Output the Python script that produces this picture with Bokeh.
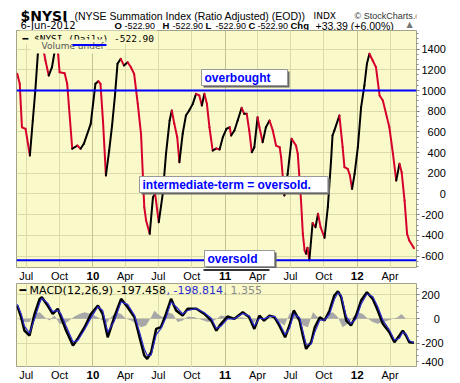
import pandas as pd
from bokeh.plotting import figure
from bokeh.layouts import column
from bokeh.core.properties import value
from bokeh.models import (Range1d, FixedTicker, SingleIntervalTicker,
                          CustomJSTickFormatter, Span, Label, BoxAnnotation, Grid, ColumnDataSource)
from bokeh.embed import file_html
from bokeh.resources import INLINE

# ---------------- data ----------------
nysi_dates = ["2009-06-06", "2009-06-13", "2009-06-19", "2009-06-29", "2009-07-11", "2009-07-19",
              "2009-07-26", "2009-08-02", "2009-08-09", "2009-08-16", "2009-08-23", "2009-09-01",
              "2009-09-10", "2009-09-18", "2009-09-25", "2009-10-01", "2009-10-15", "2009-10-22",
              "2009-11-05", "2009-11-19", "2009-11-28", "2009-12-07", "2009-12-26", "2010-01-08",
              "2010-01-16", "2010-01-22", "2010-01-29", "2010-02-06", "2010-02-15", "2010-02-23",
              "2010-03-03", "2010-03-10", "2010-03-19", "2010-03-28", "2010-04-07", "2010-04-16",
              "2010-04-25", "2010-05-05", "2010-05-14", "2010-05-23", "2010-05-28", "2010-06-07",
              "2010-06-16", "2010-06-22", "2010-07-02", "2010-07-13", "2010-07-22", "2010-08-01",
              "2010-08-07", "2010-08-14", "2010-08-22", "2010-08-28", "2010-09-06", "2010-09-15",
              "2010-09-24", "2010-10-04", "2010-10-13", "2010-10-22", "2010-10-29", "2010-11-05",
              "2010-11-12", "2010-11-19", "2010-11-28", "2010-12-08", "2010-12-17", "2010-12-26",
              "2011-01-05", "2011-01-14", "2011-01-18", "2011-01-27", "2011-02-05", "2011-02-16",
              "2011-02-23", "2011-03-02", "2011-03-09", "2011-03-16", "2011-03-23", "2011-04-01",
              "2011-04-06", "2011-04-15", "2011-04-24", "2011-05-04", "2011-05-13", "2011-05-22",
              "2011-06-01", "2011-06-05", "2011-06-14", "2011-06-23", "2011-07-04", "2011-07-16",
              "2011-07-21", "2011-07-30", "2011-08-04", "2011-08-09", "2011-08-13", "2011-08-17",
              "2011-08-22", "2011-08-31", "2011-09-08", "2011-09-15", "2011-09-22", "2011-10-03",
              "2011-10-12", "2011-10-21", "2011-10-25", "2011-10-30", "2011-11-13", "2011-11-22",
              "2011-11-27", "2011-12-06", "2011-12-12", "2011-12-18", "2011-12-25", "2012-01-03",
              "2012-01-12", "2012-01-21", "2012-01-28", "2012-02-04", "2012-02-13", "2012-02-22",
              "2012-03-03", "2012-03-12", "2012-03-21", "2012-03-30", "2012-04-09", "2012-04-18",
              "2012-04-27", "2012-05-03", "2012-05-11", "2012-05-18", "2012-05-24", "2012-06-06"]
nysi_values = [1161, 1065, 645, 630, 372, 710,
               1000, 1355, 1490, 1420, 1290, 1145,
               1225, 1390, 1430, 1177, 1167, 1065,
               437, 468, 437, 485, 678, 1065,
               1090, 1065, 700, 179, 420, 660,
               950, 1258, 1306, 1242, 1273, 1225,
               1161, 871, 582, -128, -256, -385,
               -31, 2, -272, 2, 388, 710,
               807, 678, 549, 307, 582, 758,
               807, 871, 968, 952, 855, 968,
               871, 645, 420, 440, 430, 549,
               630, 645, 565, 613, 710, 833,
               775, 775, 613, 404, 452, 742,
               645, 500, 645, 710, 613, 468,
               452, 356, -14, 195, 533, 468,
               388, -63, -385, -546, -578, -520,
               -640, -280, -321, -190, -320, -423,
               -128, 324, 565, 613, 758, 452,
               259, 243, 180, 50, 195, 452,
               839, 1048, 1258, 1355, 1290, 1225,
               952, 903, 775, 645, 388, 130,
               292, 211, -63, -385, -449, -523]

macd_dates = ["2009-06-06", "2009-06-17", "2009-06-26", "2009-07-10", "2009-07-24", "2009-08-07",
              "2009-08-13", "2009-08-29", "2009-09-12", "2009-09-26", "2009-10-05", "2009-10-19",
              "2009-11-07", "2009-11-20", "2009-12-09", "2009-12-27",
              "2010-01-15", "2010-01-28", "2010-02-11", "2010-03-01", "2010-03-20", "2010-04-07",
              "2010-04-26", "2010-05-10", "2010-05-23", "2010-05-31", "2010-06-11", "2010-06-25",
              "2010-07-08", "2010-07-22", "2010-08-05", "2010-08-19", "2010-09-06", "2010-09-20",
              "2010-10-14", "2010-11-05", "2010-11-24", "2010-12-08", "2010-12-21",
              "2011-01-08", "2011-01-27", "2011-02-19", "2011-03-09", "2011-03-23", "2011-04-06",
              "2011-04-19", "2011-05-04", "2011-05-18", "2011-05-31", "2011-06-16", "2011-06-28",
              "2011-07-10", "2011-07-26", "2011-08-04", "2011-08-13", "2011-08-27", "2011-09-06",
              "2011-09-20", "2011-10-03", "2011-10-17", "2011-10-30", "2011-11-09", "2011-11-18",
              "2011-12-02", "2011-12-15", "2011-12-29",
              "2012-01-12", "2012-01-28", "2012-02-13", "2012-02-27", "2012-03-12", "2012-03-30",
              "2012-04-13", "2012-04-27", "2012-05-06", "2012-05-15", "2012-05-24", "2012-06-06"]
macd_values = [110, 13, -97, -138, 41, 165, 179, 110, 41, 83, 13, -97, -221, -165, -69, 41,
               110, 41, -152, 13, 165, 96, 13, -152, -303, -331, -276, -83, -69, 41, 165, 69,
               27, 83, 83, 41, -14, -97, -41,
               19, 0, 55, 13, -83, 27, -14, 27, 13, -55, -152, -55, 69, -14, -138, -248, -193,
               -69, 13, -14, 69, 193, 228, 179, -14, -55, 27,
               151, 220, 165, 69, -41, -110, -193, -138, -97, -138, -193, -197]
signal_values = [120, 40, -60, -120, 0, 130, 170, 130, 60, 70, 40, -60, -190, -180, -90, 10,
                 100, 70, -110, -20, 140, 120, 30, -110, -250, -300, -300, -130, -80, 10, 140, 100,
                 40, 70, 85, 50, 5, -80, -60,
                 0, 0, 45, 25, -60, 5, 0, 20, 20, -35, -130, -80, 40, 10, -100, -210, -210,
                 -110, -10, -10, 40, 160, 215, 195, 20, -40, 0,
                 120, 205, 185, 100, -10, -90, -175, -160, -110, -125, -180, -199]

hist_dates = ["2009-06-08", "2009-06-26", "2009-07-10", "2009-07-24", "2009-08-07", "2009-08-21",
              "2009-09-03", "2009-09-17", "2009-10-01", "2009-10-15", "2009-10-28", "2009-11-11",
              "2009-11-25", "2009-12-09", "2009-12-27", "2010-01-15", "2010-01-28", "2010-02-07",
              "2010-02-20", "2010-03-06", "2010-03-20", "2010-04-03", "2010-04-17", "2010-05-01",
              "2010-05-14", "2010-05-28", "2010-06-11", "2010-06-20", "2010-06-29", "2010-07-13",
              "2010-07-27", "2010-08-10", "2010-08-23", "2010-09-06", "2010-09-20", "2010-10-09",
              "2010-10-28", "2010-11-15", "2010-12-03", "2010-12-21", "2011-01-08", "2011-01-27",
              "2011-02-15", "2011-03-05", "2011-03-19", "2011-04-02", "2011-04-15", "2011-04-29",
              "2011-05-18", "2011-05-31", "2011-06-14", "2011-06-28", "2011-07-12", "2011-07-26",
              "2011-08-04", "2011-08-18", "2011-09-01", "2011-09-14", "2011-09-28", "2011-10-12",
              "2011-10-26", "2011-11-09", "2011-11-22", "2011-12-06", "2011-12-20", "2012-01-03",
              "2012-01-17", "2012-01-31", "2012-02-13", "2012-02-27", "2012-03-12", "2012-03-26",
              "2012-04-09", "2012-04-22", "2012-05-02", "2012-05-15", "2012-05-29", "2012-06-06"]
hist_values = [0, -27, -27, 41, 55, 14, -14, 27, -41, -41, -14, 19, 41, 55, 41, 14, -14, -41,
               14, 55, 41, 0, -14, -41, -69, -55, 14, 69, 41, 14, 55, 41, -27, -14, 19, 14,
               -8, -27, -14, 27, 19, 0, 14, 0, -41, 14, -14, 14, -8, -27, -55, 41, 69, 0,
               -55, -69, 55, 14, -14, 41, 55, 14, -69, -41, 14, 55, 41, 0, -27, -41, -27, -14,
               0, 14, 41, 0, 0, 1]

month_ticks = ["2009-07-01", "2009-10-01", "2010-04-01", "2010-07-01", "2010-10-01",
               "2011-04-01", "2011-07-01", "2011-10-01", "2012-04-01"]
month_labels = ["Jul", "Oct", "Apr", "Jul", "Oct", "Apr", "Jul", "Oct", "Apr"]
year_ticks = ["2010-01-01", "2011-01-01", "2012-01-01"]
year_labels = ["10", "11", "12"]

overbought_level = 1000
oversold_level = -640

title_symbol = "$NYSI"
title_name = "(NYSE Summation Index (Ratio Adjusted) (EOD))"
quote_date = "6-Jun-2012"
quote_value = "-522.90"
quote_change = "+33.39 (+6.00%)"
macd_label = "MACD(12,26,9) -197.458"
macd_signal_label = ", -198.814"
macd_hist_label = ", 1.355"

# ---------------- style ----------------
BG = "#f9f9c9"
GRID = "#dadaab"
YEARGRID = "#c2c292"
RED = "#d6002c"
BLUE = "#0000ff"
SANS = "Liberation Sans"
VERD = "DejaVu Sans"
MONO = "DejaVu Sans Mono"
W = 460


def to_ms(s):
    return pd.Timestamp(s).timestamp() * 1000.0


month_ms = [to_ms(d) for d in month_ticks]
year_ms = [to_ms(d) for d in year_ticks]
x_range = Range1d(start=to_ms("2009-06-04"), end=to_ms("2012-06-13"))


def pad_fmt(n):
    return CustomJSTickFormatter(code="let s = tick.toFixed(0); while (s.length < %d) { s = '\\u2007' + s; } return s;" % n)


def label(p, text, sx, sy, size, color="black", font=SANS, style="normal", baseline="middle", **kw):
    lab = Label(x=sx, y=sy, x_units="screen", y_units="screen", text=text, text_font=font,
                text_font_size=size, text_font_style=style, text_color=color,
                text_align="left", text_baseline=baseline, **kw)
    p.add_layout(lab)
    return lab


def panel(height, y_range, interval, minors, padn):
    p = figure(width=W, height=height, title=None, x_axis_type="datetime",
               x_axis_location=None, y_axis_location="right",
               x_range=x_range, y_range=y_range, output_backend="svg",
               toolbar_location=None, min_border_left=16, min_border_right=44,
               min_border_top=0, min_border_bottom=0)
    p.background_fill_color = BG
    p.border_fill_color = "white"
    p.outline_line_color = "#a3a38a"
    p.yaxis.ticker = SingleIntervalTicker(interval=interval, num_minor_ticks=minors)
    p.yaxis.formatter = pad_fmt(padn)
    p.yaxis.axis_line_color = None
    p.yaxis.major_tick_in = 0
    p.yaxis.major_tick_out = 3
    p.yaxis.minor_tick_in = 0
    p.yaxis.minor_tick_out = 2
    p.yaxis.major_tick_line_color = "#666666"
    p.yaxis.minor_tick_line_color = "#888888"
    p.yaxis.major_label_standoff = 2
    p.yaxis.major_label_text_font = SANS
    p.yaxis.major_label_text_font_size = "11px"
    p.yaxis.major_label_text_color = "black"
    p.xgrid.ticker = FixedTicker(ticks=month_ms)
    p.xgrid.grid_line_color = GRID
    p.ygrid.grid_line_color = GRID
    p.add_layout(Grid(dimension=0, ticker=FixedTicker(ticks=year_ms), grid_line_color=YEARGRID))
    return p


def strip(height, ypos):
    s = figure(width=W, height=height, title=None, x_axis_location=None, y_axis_location=None,
               x_range=x_range, y_range=Range1d(0, 1), output_backend="svg",
               toolbar_location=None, min_border_left=16, min_border_right=44,
               min_border_top=0, min_border_bottom=0)
    s.outline_line_color = None
    s.background_fill_color = "white"
    s.border_fill_color = "white"
    s.xgrid.visible = False
    s.ygrid.visible = False
    s.text(x=pd.to_datetime(month_ticks), y=[ypos] * len(month_labels), text=month_labels,
           text_align="center", text_baseline="middle", text_font=value(SANS),
           text_font_size="11px", text_color="black")
    s.text(x=pd.to_datetime(year_ticks), y=[ypos] * len(year_labels), text=year_labels,
           text_align="center", text_baseline="middle", text_font=value(SANS),
           text_font_size="11.5px", text_font_style="bold", text_color="black")
    return s


# ---------------- header ----------------
pH = figure(width=W, height=30, title=None, x_axis_location=None, y_axis_location=None,
            x_range=Range1d(0, 1), y_range=Range1d(0, 1), output_backend="svg",
            toolbar_location=None, min_border_left=0, min_border_right=0,
            min_border_top=0, min_border_bottom=0)
pH.outline_line_color = None
pH.background_fill_color = "white"
pH.border_fill_color = "white"
pH.xgrid.visible = False
pH.ygrid.visible = False
label(pH, title_symbol, 4, 15, "14px", font=VERD, style="bold", baseline="alphabetic")
label(pH, title_name, 58, 15, "10.5px", baseline="alphabetic")
label(pH, "INDX", 297, 15, "9px", font=VERD, baseline="alphabetic")
label(pH, "\u00a9 StockCharts.com", 338, 15, "9px", color="#333333", baseline="alphabetic")
label(pH, quote_date, 4, 5, "10px", font=VERD, baseline="alphabetic")
for letter, lx, vx, val, vsize in [("O", 98, 108, quote_value, "9px"),
                                   ("H", 146, 156, quote_value, "9px"),
                                   ("L", 189, 199, quote_value, "9px"),
                                   ("C", 232, 241, quote_value, "9px"),
                                   ("Chg", 274, 299, quote_change, "10.5px")]:
    label(pH, letter, lx, 5, "9.5px", style="bold", baseline="alphabetic")
    label(pH, val, vx, 5, vsize, baseline="alphabetic")
label(pH, "\u25b2", 390, 6, "8px", color="#777777", font=VERD, baseline="alphabetic")

# ---------------- main panel ----------------
pA = panel(238, Range1d(-720, 1580), 200, 4, 4)

nd = pd.to_datetime(nysi_dates)
seg = ColumnDataSource(dict(
    x0=nd[:-1], x1=nd[1:], y0=nysi_values[:-1], y1=nysi_values[1:],
    c=["black" if b >= a else RED for a, b in zip(nysi_values[:-1], nysi_values[1:])]))
pA.segment(x0="x0", y0="y0", x1="x1", y1="y1", color="c", line_width=2, line_cap="round",
           source=seg)

pA.add_layout(Span(location=overbought_level, dimension="width", line_color=BLUE, line_width=2))
pA.add_layout(Span(location=oversold_level, dimension="width", line_color=BLUE, line_width=2))

# legend
label(pA, "\u2501 $NYSI (Daily) -522.90", 3, 232, "9.5px", font=MONO,
      background_fill_color=BG, padding=dict(left=3, right=3, top=3, bottom=0))
label(pA, "Volume undef", 14, 222, "9px", color="#555555", font=VERD,
      background_fill_color=BG, padding=dict(left=11, right=2, top=1, bottom=3))
pA.add_layout(BoxAnnotation(left=56, right=90, bottom=222.5, top=224.5, left_units="screen",
                            right_units="screen", top_units="screen", bottom_units="screen",
                            fill_color=BLUE, fill_alpha=1, line_color=None))

# boxed notes
for text, sx, sy in [("overbought", 185, 191), ("intermediate-term = oversold.", 123, 84),
                     ("oversold", 188, 10)]:
    pad = dict(left=3, right=17, top=1, bottom=1)
    label(pA, text, sx, sy, "12px", color="#666666", style="bold",
          background_fill_color="#666666", padding=pad, x_offset=2, y_offset=-2)
    label(pA, text, sx, sy, "12px", color=BLUE, style="bold", background_fill_color="white",
          border_line_color="#999999", border_line_width=1, padding=pad)

# ---------------- strip between panels ----------------
pS1 = strip(15, 0.5)
pS1.add_layout(BoxAnnotation(left=187, right=253, bottom=12.5, top=14.5, left_units="screen",
                             right_units="screen", top_units="screen", bottom_units="screen",
                             fill_color="#333333", fill_alpha=1, line_color=None))

# ---------------- MACD panel ----------------
pB = panel(84, Range1d(-402, 292), 200, 4, 3)
hd = pd.to_datetime(hist_dates)
pB.varea(x=hd, y1=[0] * len(hist_values), y2=hist_values, fill_color="#a8a8a8")
md = pd.to_datetime(macd_dates)
pB.line(md, macd_values, line_color="black", line_width=2.5)
pB.line(md, signal_values, line_color="#2a2ad0", line_width=1.2)

label(pB, "\u2501 " + macd_label, 3, 77, "11px", font=VERD)
label(pB, macd_signal_label, 150, 77, "11px", color="#2a2ad0", font=VERD)
label(pB, macd_hist_label, 207, 77, "11px", color="#8c8c8c", font=VERD)

pS2 = strip(16, 0.56)

layout = column(pH, pA, pS1, pB, pS2)
open("out.html", "w").write(file_html(layout, INLINE))
